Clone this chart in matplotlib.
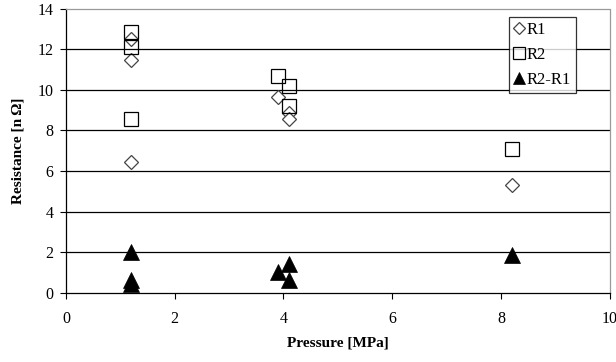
import matplotlib
matplotlib.use("Agg")
import matplotlib.pyplot as plt

plt.rcParams['font.family'] = ['Liberation Serif', 'DejaVu Serif']

# Measured resistances against contact pressure
r1_pressure = [1.2, 1.2, 1.2, 3.9, 4.1, 4.1, 8.2]
r1_values = [12.5, 11.45, 6.45, 9.65, 8.85, 8.55, 5.3]

r2_pressure = [1.2, 1.2, 1.2, 3.9, 4.1, 4.1, 8.2]
r2_values = [12.85, 12.1, 8.55, 10.7, 10.2, 9.2, 7.1]

diff_pressure = [1.2, 1.2, 1.2, 3.9, 4.1, 4.1, 8.2]
diff_values = [2.0, 0.65, 0.45, 1.05, 1.4, 0.65, 1.85]

x_ticks = [0, 2, 4, 6, 8, 10]
y_ticks = [0, 2, 4, 6, 8, 10, 12, 14]

fig = plt.figure(figsize=(6.16, 3.62), dpi=100)
ax = fig.add_axes([0.107, 0.191, 0.883, 0.785])

for y in y_ticks[1:-1]:
    ax.axhline(y, color='black', lw=0.9, zorder=1)

ax.plot(r1_pressure, r1_values, linestyle='none', marker='D', ms=7.2,
        mfc='white', mec='#444444', mew=0.9, label='R1', zorder=3)
ax.plot(r2_pressure, r2_values, linestyle='none', marker='s', ms=10.5,
        mfc='none', mec='black', mew=0.9, label='R2', zorder=3)
ax.plot(diff_pressure, diff_values, linestyle='none', marker='^', ms=11,
        mfc='black', mec='black', mew=0.5, label='R2-R1', zorder=3)

ax.set_xlim(0, 10)
ax.set_ylim(0, 14)
ax.set_xticks(x_ticks)
ax.set_yticks(y_ticks)
ax.tick_params(axis='both', direction='out', length=4, width=0.8,
               labelsize=11.5, colors='black')
ax.tick_params(axis='x', pad=9)
ax.tick_params(axis='y', pad=5)

for side in ('top', 'right'):
    ax.spines[side].set_color('#9a9a9a')
    ax.spines[side].set_linestyle((0, (1, 1)))
    ax.spines[side].set_linewidth(0.9)
for side in ('left', 'bottom'):
    ax.spines[side].set_color('black')
    ax.spines[side].set_linewidth(0.9)

ax.set_xlabel('Pressure [MPa]', fontsize=11, fontweight='bold', labelpad=7)
ax.set_ylabel('Resistance [n\u2009\u03a9]', fontsize=11, fontweight='bold', labelpad=9)

leg = ax.legend(loc='upper right', bbox_to_anchor=(0.9375, 0.971),
                fontsize=12, frameon=True, fancybox=False, borderpad=0.3,
                handlelength=0.6, handletextpad=0.15, labelspacing=0.55,
                borderaxespad=0.0, markerscale=0.85)
leg.get_frame().set_edgecolor('black')
leg.get_frame().set_linewidth(0.9)

fig.savefig('out.png', dpi=100)
